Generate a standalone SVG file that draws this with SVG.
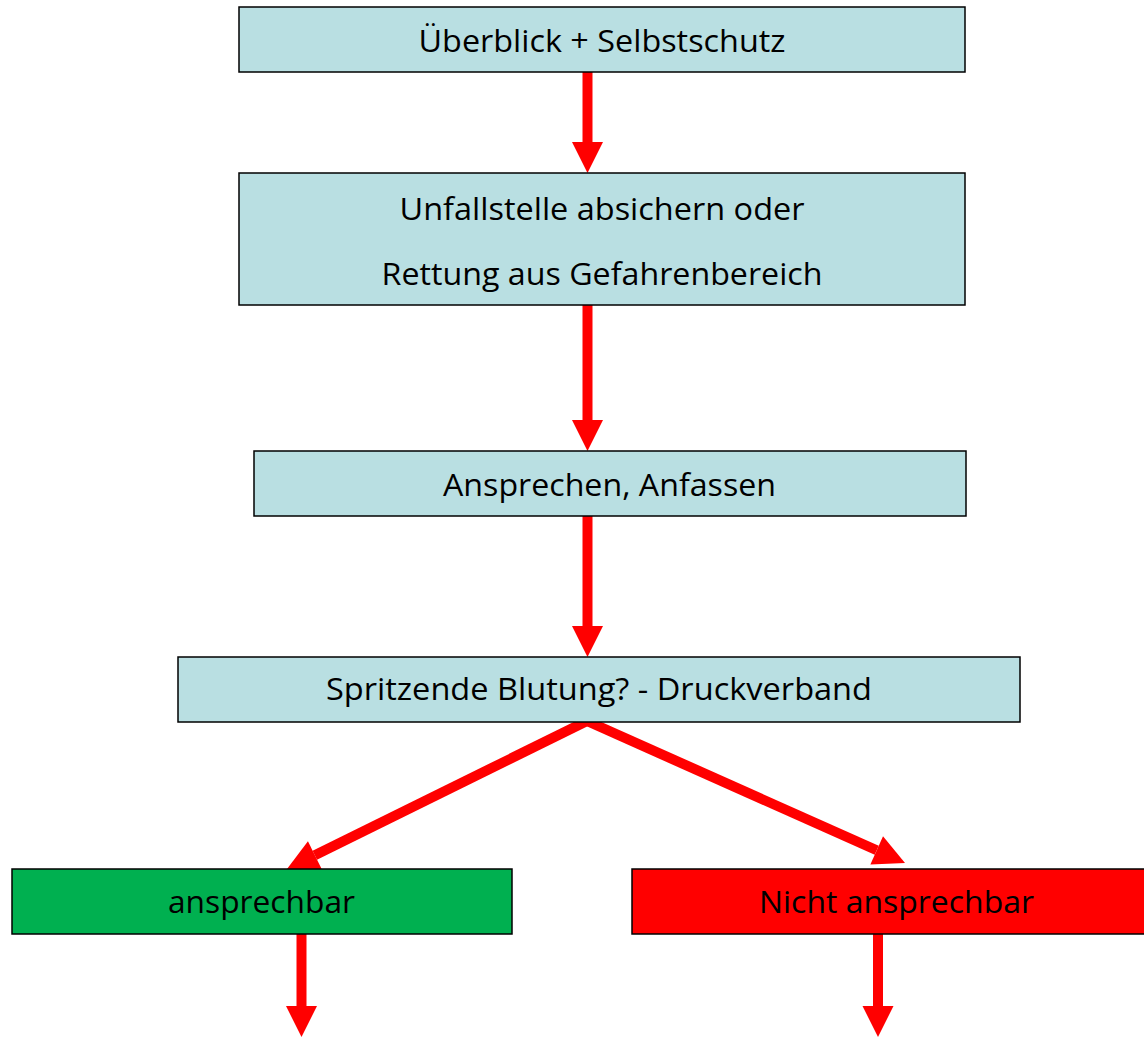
<svg xmlns="http://www.w3.org/2000/svg" width="1144" height="1037" viewBox="0 0 1144 1037">
<style>
.box{stroke:#000;stroke-width:1.5}
.blue{fill:#B9DFE2}
.green{fill:#00B050}
.red{fill:#FF0000}
.t{font-family:"Open Sans","Liberation Sans",sans-serif;font-size:31px;fill:#000;text-anchor:middle}
.c{stroke:#FF0000;stroke-width:10;fill:none}
</style>
<defs>
<marker id="ah" markerUnits="userSpaceOnUse" markerWidth="31" markerHeight="31" refX="0" refY="15.5" orient="auto" overflow="visible">
<path d="M0,0 L31,15.5 L0,31 Z" fill="#FF0000"/>
</marker>
</defs>
<rect width="1144" height="1037" fill="#fff"/>
<g id="connectors">
<line class="c" x1="587.5" y1="72" x2="587.5" y2="142" marker-end="url(#ah)"/>
<line class="c" x1="587.5" y1="305" x2="587.5" y2="420" marker-end="url(#ah)"/>
<line class="c" x1="587.5" y1="516" x2="587.5" y2="626" marker-end="url(#ah)"/>
<path class="c" d="M587,721 L314.8,855.2" marker-end="url(#ah)"/>
<path class="c" d="M587,721 L876.7,850.3" marker-end="url(#ah)"/>
<line class="c" x1="301.5" y1="934" x2="301.5" y2="1006" marker-end="url(#ah)"/>
<line class="c" x1="878" y1="934" x2="878" y2="1006" marker-end="url(#ah)"/>
</g>
<g id="n1"><rect class="box blue" x="239" y="7" width="726" height="65"/><text class="t" x="602" y="52" textLength="367" lengthAdjust="spacingAndGlyphs">Überblick + Selbstschutz</text></g>
<g id="n2"><rect class="box blue" x="239" y="173" width="726" height="132"/><text class="t" x="602" y="220" textLength="405" lengthAdjust="spacingAndGlyphs">Unfallstelle absichern oder</text><text class="t" x="602" y="285" textLength="441" lengthAdjust="spacingAndGlyphs">Rettung aus Gefahrenbereich</text></g>
<g id="n3"><rect class="box blue" x="254" y="451" width="712" height="65"/><text class="t" x="609.5" y="496" textLength="333" lengthAdjust="spacingAndGlyphs">Ansprechen, Anfassen</text></g>
<g id="n4"><rect class="box blue" x="178" y="657" width="842" height="65"/><text class="t" x="599" y="700" textLength="546" lengthAdjust="spacingAndGlyphs">Spritzende Blutung? - Druckverband</text></g>
<g id="n5"><rect class="box green" x="12" y="869" width="500" height="65"/><text class="t" x="261.5" y="913" textLength="187" lengthAdjust="spacingAndGlyphs">ansprechbar</text></g>
<g id="n6"><rect class="box red" x="632" y="869" width="530" height="65"/><text class="t" x="896.5" y="913" textLength="275" lengthAdjust="spacingAndGlyphs">Nicht ansprechbar</text></g>
</svg>
